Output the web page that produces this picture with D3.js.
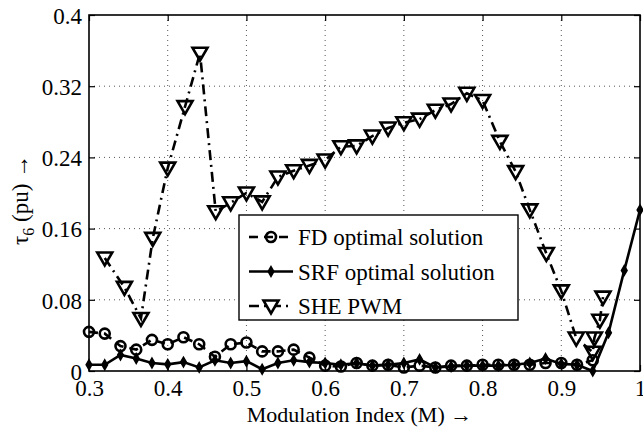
<!DOCTYPE html>
<html>
<head>
<meta charset="utf-8">
<script src="https://cdn.jsdelivr.net/npm/d3@7"></script>
<style>
  body { margin: 0; background: #fff; }
</style>
</head>
<body>
<div class="chart"></div>
<script>
var svgWidth = 643;
var svgHeight = 428;
var serif = "Liberation Serif, Times New Roman, Tinos, Nimbus Roman, Noto Serif, FreeSerif, DejaVu Serif, serif";

var margin = { top: 15, right: 3, bottom: 57, left: 89 };
var width = svgWidth - margin.left - margin.right;
var height = svgHeight - margin.top - margin.bottom;

// data
var xTicks = [0.3, 0.4, 0.5, 0.6, 0.7, 0.8, 0.9, 1];
var xTickLabels = ["0.3", "0.4", "0.5", "0.6", "0.7", "0.8", "0.9", "1"];
var yTicks = [0, 0.08, 0.16, 0.24, 0.32, 0.4];
var yTickLabels = ["0", "0.08", "0.16", "0.24", "0.32", "0.4"];

var fdM = [0.30, 0.32, 0.34, 0.36, 0.38, 0.40, 0.42, 0.44, 0.46, 0.48, 0.50, 0.52, 0.54, 0.56, 0.58, 0.60, 0.62,
  0.64, 0.66, 0.68, 0.70, 0.72, 0.74, 0.76, 0.78, 0.80, 0.82, 0.84, 0.86, 0.88, 0.90, 0.92, 0.94];
var fdVal = [0.044, 0.042, 0.028, 0.024, 0.035, 0.030, 0.038, 0.030, 0.016, 0.030, 0.032, 0.022, 0.022, 0.024, 0.015, 0.006, 0.005,
  0.009, 0.006, 0.007, 0.004, 0.006, 0.004, 0.006, 0.006, 0.007, 0.007, 0.007, 0.007, 0.009, 0.009, 0.007, 0.012];

var srfM = [0.30, 0.32, 0.34, 0.36, 0.38, 0.40, 0.42, 0.44, 0.46, 0.48, 0.50, 0.52, 0.54, 0.56, 0.58, 0.60, 0.62, 0.64,
  0.66, 0.68, 0.70, 0.72, 0.74, 0.76, 0.78, 0.80, 0.82, 0.84, 0.86, 0.88, 0.90, 0.92, 0.94, 0.96, 0.98, 1.00];
var srfVal = [0.007, 0.007, 0.018, 0.014, 0.009, 0.0075, 0.010, 0.004, 0.012, 0.009, 0.011, 0.002, 0.009, 0.012, 0.010, 0.009, 0.007, 0.009,
  0.006, 0.007, 0.009, 0.013, 0.004, 0.005, 0.006, 0.006, 0.006, 0.007, 0.009, 0.014, 0.008, 0.007, 0.0, 0.043, 0.113, 0.181];

var sheM = [0.32, 0.345, 0.366, 0.381, 0.40, 0.422, 0.441, 0.461, 0.48, 0.50, 0.52, 0.54, 0.56, 0.58, 0.60, 0.62, 0.64,
  0.66, 0.68, 0.70, 0.72, 0.74, 0.76, 0.78, 0.80, 0.822, 0.842, 0.86, 0.881, 0.90, 0.919, 0.94, 0.942, 0.949, 0.953];
var sheVal = [0.127, 0.094, 0.059, 0.149, 0.228, 0.297, 0.357, 0.179, 0.189, 0.200, 0.190, 0.218, 0.225, 0.231, 0.237, 0.252, 0.253,
  0.264, 0.273, 0.279, 0.283, 0.293, 0.300, 0.312, 0.304, 0.258, 0.224, 0.181, 0.132, 0.090, 0.037, 0.021, 0.037, 0.057, 0.083];

var svg = d3.select(".chart")
  .append("svg")
  .attr("width", svgWidth)
  .attr("height", svgHeight)
  .attr("font-family", serif);

var chart = svg.append("g")
  .attr("transform", "translate(" + margin.left + "," + margin.top + ")");

var xScale = d3.scaleLinear().domain([0.3, 1]).range([0, width]);
var yScale = d3.scaleLinear().domain([0, 0.4]).range([height, 0]);

// grid
chart.append("g").selectAll("line")
  .data(xTicks.slice(1, -1))
  .enter().append("line")
  .attr("x1", function(d) { return xScale(d); })
  .attr("x2", function(d) { return xScale(d); })
  .attr("y1", 0).attr("y2", height)
  .attr("stroke", "#555").attr("stroke-width", 1)
  .attr("stroke-dasharray", "1,4");

chart.append("g").selectAll("line")
  .data(yTicks.slice(1, -1))
  .enter().append("line")
  .attr("y1", function(d) { return yScale(d); })
  .attr("y2", function(d) { return yScale(d); })
  .attr("x1", 0).attr("x2", width)
  .attr("stroke", "#555").attr("stroke-width", 1)
  .attr("stroke-dasharray", "1,4");

// axes, ticks inside on all four sides
var bottomAxis = d3.axisBottom(xScale).tickValues(xTicks).tickSize(-6)
  .tickFormat(function(d, i) { return xTickLabels[i]; });
var topAxis = d3.axisTop(xScale).tickValues(xTicks).tickSize(-6).tickFormat("");
var leftAxis = d3.axisLeft(yScale).tickValues(yTicks).tickSize(-6)
  .tickFormat(function(d, i) { return yTickLabels[i]; }).tickPadding(7);
var rightAxis = d3.axisRight(yScale).tickValues(yTicks).tickSize(-6).tickFormat("");

function styleAxis(g) {
  g.attr("font-family", serif).attr("font-size", 23);
  g.select(".domain").remove();
  g.selectAll(".tick line").attr("stroke", "#000").attr("stroke-width", 1.2);
}

chart.append("g").attr("transform", "translate(0," + height + ")").call(bottomAxis).call(styleAxis)
  .selectAll("text").attr("y", 25).attr("dy", 0);
chart.append("g").call(topAxis).call(styleAxis);
chart.append("g").call(leftAxis).call(styleAxis)
  .selectAll("text").attr("dy", "0.36em");
chart.append("g").attr("transform", "translate(" + width + ",0)").call(rightAxis).call(styleAxis);

chart.append("rect")
  .attr("width", width).attr("height", height)
  .attr("fill", "none").attr("stroke", "#000").attr("stroke-width", 1.6);

// series
var line = d3.line()
  .x(function(d) { return xScale(d.m); })
  .y(function(d) { return yScale(d.v); });

function zipData(ms, vs) {
  return ms.map(function(m, i) { return { m: m, v: vs[i] }; });
}

var fdData = zipData(fdM, fdVal);
var srfData = zipData(srfM, srfVal);
var sheData = zipData(sheM, sheVal);

var triangle = "M-7.5,-5.5L7.5,-5.5L0,7.5Z";
var srfMark = d3.symbol().type(d3.symbolDiamond).size(28)();

chart.append("path").datum(sheData)
  .attr("d", line).attr("fill", "none").attr("stroke", "#000")
  .attr("stroke-width", 2.6).attr("stroke-dasharray", "10,5,2,5");

chart.append("path").datum(fdData)
  .attr("d", line).attr("fill", "none").attr("stroke", "#000")
  .attr("stroke-width", 2.6).attr("stroke-dasharray", "9,6");

chart.append("path").datum(srfData)
  .attr("d", line).attr("fill", "none").attr("stroke", "#000")
  .attr("stroke-width", 2.6);

chart.append("g").selectAll("path")
  .data(sheData)
  .enter().append("path")
  .attr("d", triangle)
  .attr("transform", function(d) { return "translate(" + xScale(d.m) + "," + yScale(d.v) + ")"; })
  .attr("fill", "none").attr("stroke", "#000").attr("stroke-width", 2.6);

chart.append("g").selectAll("circle")
  .data(fdData)
  .enter().append("circle")
  .attr("cx", function(d) { return xScale(d.m); })
  .attr("cy", function(d) { return yScale(d.v); })
  .attr("r", 5)
  .attr("fill", "none").attr("stroke", "#000").attr("stroke-width", 2.6);

chart.append("g").selectAll("path")
  .data(srfData)
  .enter().append("path")
  .attr("d", srfMark)
  .attr("transform", function(d) { return "translate(" + xScale(d.m) + "," + yScale(d.v) + ")"; })
  .attr("fill", "#000").attr("stroke", "#000").attr("stroke-width", 1.5);

// legend
var legend = svg.append("g").attr("transform", "translate(239,215)");
legend.append("rect")
  .attr("width", 279).attr("height", 105)
  .attr("fill", "#fff").attr("stroke", "#000").attr("stroke-width", 1.4);

var legendItems = [
  { label: "FD optimal solution", dash: "9,6", mark: "circle" },
  { label: "SRF optimal solution", dash: null, mark: "diamond" },
  { label: "SHE PWM", dash: "10,5,2,5", mark: "triangle" }
];

legendItems.forEach(function(item, i) {
  var cy = 22 + i * 34.5;
  var row = legend.append("g").attr("transform", "translate(0," + cy + ")");
  row.append("line")
    .attr("x1", 10).attr("x2", 54).attr("y1", 0).attr("y2", 0)
    .attr("stroke", "#000").attr("stroke-width", 2.6)
    .attr("stroke-dasharray", item.dash);
  if (item.mark === "circle") {
    row.append("circle").attr("cx", 32).attr("cy", 0).attr("r", 5)
      .attr("fill", "none").attr("stroke", "#000").attr("stroke-width", 2.6);
  } else if (item.mark === "diamond") {
    row.append("path").attr("d", srfMark).attr("transform", "translate(32,0)")
      .attr("fill", "#000").attr("stroke", "#000").attr("stroke-width", 1.5);
  } else {
    row.append("path").attr("d", triangle).attr("transform", "translate(32,0)")
      .attr("fill", "#fff").attr("stroke", "#000").attr("stroke-width", 2.6);
  }
  row.append("text")
    .attr("x", 59).attr("y", 0).attr("dy", "0.35em")
    .attr("font-size", 23)
    .text(item.label);
});

// axis titles
svg.append("text")
  .attr("x", margin.left + width / 2 - 5)
  .attr("y", 422)
  .attr("text-anchor", "middle")
  .attr("font-size", 22)
  .text("Modulation Index (M) \u2192");

var yTitle = svg.append("text")
  .attr("transform", "translate(28,200) rotate(-90)")
  .attr("text-anchor", "middle")
  .attr("font-size", 23);
yTitle.append("tspan").text("\u03c4");
yTitle.append("tspan").attr("dy", 6).attr("font-size", 16).text("6");
yTitle.append("tspan").attr("dy", -6).text(" (pu) \u2192");
</script>
</body>
</html>
